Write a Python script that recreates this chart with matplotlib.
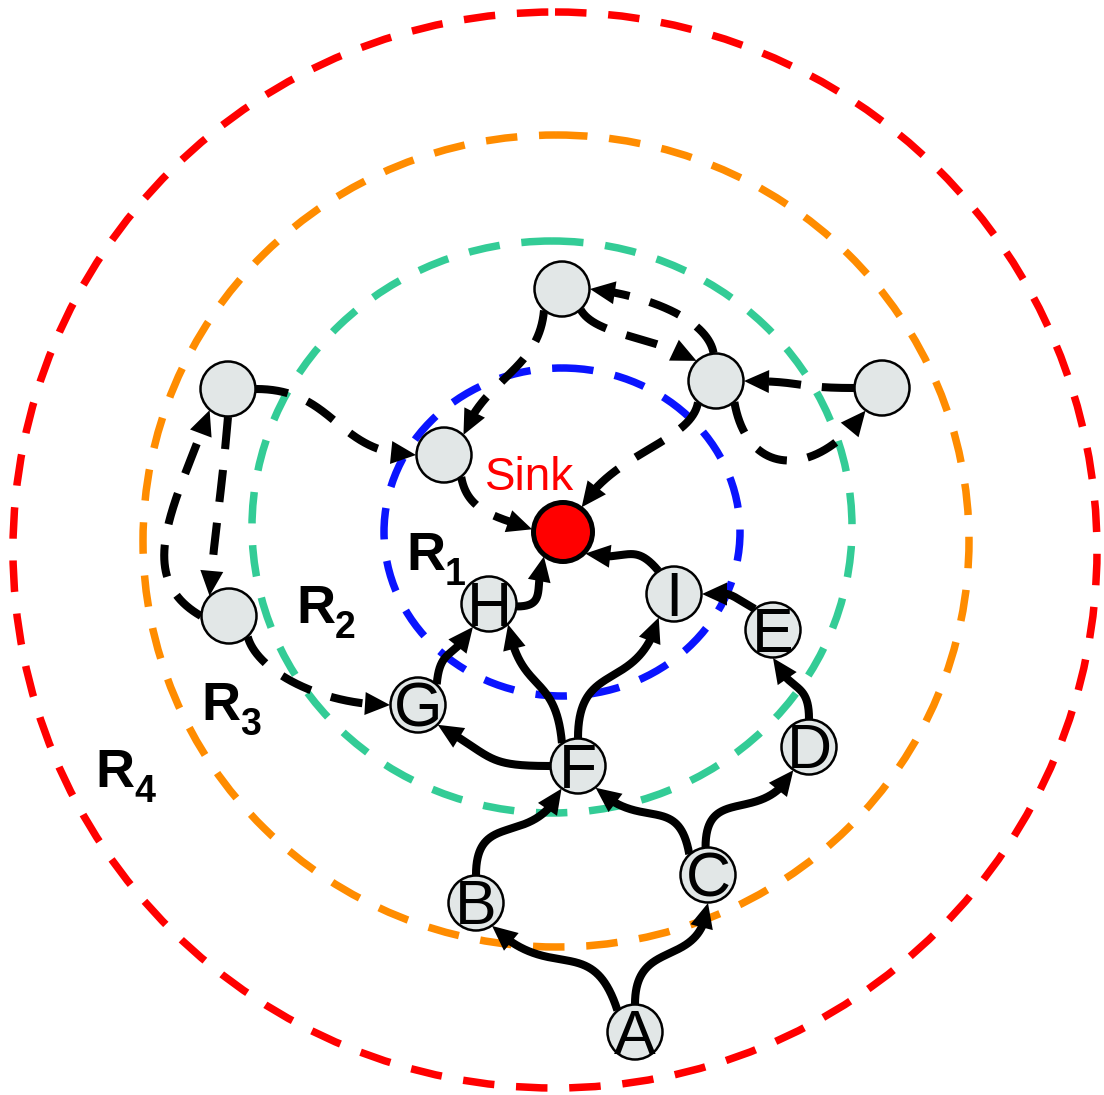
import numpy as np
import matplotlib.pyplot as plt
from matplotlib.patches import Circle, Ellipse, Polygon

plt.rcParams['font.family'] = ['Liberation Sans', 'DejaVu Sans']

# rings, inner to outer (pixel space of the original picture)
ring_names = ["1", "2", "3", "4"]
ring_cx = [562, 552, 556, 555]
ring_cy = [532, 527, 541, 550]
ring_rx = [178, 300, 413, 542]
ring_ry = [164, 286, 406, 538]
ring_label_x = [406, 296, 201, 95]
ring_label_y = [570, 623, 720, 787]
ring_colors = ["#0a14ff", "#33cc96", "#ff8c00", "#ff0000"]

# nodes
node_names = ["A", "B", "C", "D", "E", "F", "G", "H", "I", "Sink",
              "n1", "n2", "n3", "n4", "n5", "n6"]
node_x = [635, 476, 708, 809, 773, 578, 418, 489, 674, 563,
          562, 716, 882, 228, 444, 229]
node_y = [1032, 903, 875, 747, 630, 766, 705, 604, 594, 532,
          289, 381, 388, 389, 455, 616]
node_text = ["A", "B", "C", "D", "E", "F", "G", "H", "I", "",
             "", "", "", "", "", ""]

# edges: src, dst, leave angle, leave heading, enter angle, enter back-heading, (lengths)
solid_edges = [
    ("A", "B", 129, 108, -55, -45, None, None),
    ("A", "C", 90, 90, -90, -95, None, None),
    ("B", "F", 90, 90, 234, 245, None, None),
    ("C", "F", 132, 100, -51, -45, None, None),
    ("C", "D", 95, 90, 236, 242, None, None),
    ("D", "E", 90, 90, -90, -65, None, None),
    ("E", "I", 131, 150, 0, 5, None, None),
    ("F", "G", 180, 180, -45, -30, None, None),
    ("F", "H", 125, 95, -47, -80, None, None),
    ("F", "I", 90, 90, 237, 255, None, None),
    ("G", "H", 48, 85, 235, 240, None, None),
    ("H", "Sink", -5, 0, 232, 250, None, None),
    ("I", "Sink", 124, 130, -44, -15, None, None),
]
dashed_edges = [
    ("n4", "n5", 0, 0, 180, 180, 80, 80),
    ("n4", "n6", -90, -95, 134, 85, None, None),
    ("n6", "n4", 180, 150, 229, 250, 80, 100),
    ("n6", "G", -48, -75, 180, 180, 35, 70),
    ("n5", "Sink", -52, -80, 175, 160, 36, 36),
    ("n1", "n5", 230, 265, 46, 70, 60, 60),
    ("n1", "n2", -48, -60, 134, 150, 30, 50),
    ("n2", "n1", 95, 100, 0, -6, 35, 56),
    ("n2", "Sink", 230, 260, 53, 60, 40, 63),
    ("n2", "n3", -49, -80, 234, 235, 80, 80),
    ("n3", "n2", 180, 180, 0, 0, None, None),
]

pos = {n: np.array([x, y], float) for n, x, y in zip(node_names, node_x, node_y)}
rad = {n: 28.0 for n in node_names}
rad["Sink"] = 31.0


def unit(a):
    r = np.deg2rad(a)
    return np.array([np.cos(r), -np.sin(r)])


def draw_edge(ax, src, dst, a_out, t_out, a_in, t_in, l_out, l_in, dashed):
    p0 = pos[src] + rad[src] * unit(a_out)
    p3 = pos[dst] + rad[dst] * unit(a_in)
    d = np.linalg.norm(p3 - p0)
    l_out = 0.55 * d if l_out is None else l_out
    l_in = 0.55 * d if l_in is None else l_in
    p1 = p0 + l_out * unit(t_out)
    p2 = p3 + l_in * unit(t_in)
    t = np.linspace(0, 1, 400)[:, None]
    c = (1 - t)**3 * p0 + 3 * (1 - t)**2 * t * p1 + 3 * (1 - t) * t**2 * p2 + t**3 * p3
    dist = np.linalg.norm(c - p3, axis=1)
    head_len, head_w = 25, 11.5
    k_line = np.where(dist >= head_len * 0.8)[0][-1]
    k_base = np.where(dist >= head_len)[0][-1]
    ls = (0, (4.0, 2.6)) if dashed else "-"
    ax.plot(c[:k_line + 1, 0], c[:k_line + 1, 1], color="black", lw=5.8,
            ls=ls, solid_capstyle="butt", dash_capstyle="butt", zorder=3)
    v = p3 - c[k_base]
    v = v / np.linalg.norm(v)
    base = p3 - head_len * v
    n = np.array([-v[1], v[0]])
    ax.add_patch(Polygon([p3, base + head_w * n, base - head_w * n],
                         closed=True, fc="black", ec="none", zorder=4))


fig = plt.figure(figsize=(11.04, 10.95), dpi=100)
ax = fig.add_axes([0, 0, 1, 1])
ax.set_xlim(0, 1104)
ax.set_ylim(1095, 0)
ax.axis("off")

for cx, cy, rx, ry, col in zip(ring_cx, ring_cy, ring_rx, ring_ry, ring_colors):
    ax.add_patch(Ellipse((cx, cy), 2 * rx, 2 * ry, fill=False, ec=col, lw=5.4,
                         ls=(0, (4.2, 2.9)), zorder=1))

for name, lx, ly in zip(ring_names, ring_label_x, ring_label_y):
    ax.text(lx, ly, "R", fontsize=39, fontweight="bold", ha="left", va="baseline", zorder=2)
    ax.text(lx + 39, ly + 15, name, fontsize=27, fontweight="bold", ha="left",
            va="baseline", zorder=2)

for e in solid_edges:
    draw_edge(ax, *e, dashed=False)
for e in dashed_edges:
    draw_edge(ax, *e, dashed=True)

for name, x, y, lab in zip(node_names, node_x, node_y, node_text):
    if name == "Sink":
        ax.add_patch(Circle((x, y), 29.5, fc="#ff0000", ec="black", lw=3.6, zorder=5))
    else:
        ax.add_patch(Circle((x, y), 27.5, fc="#e2e7e7", ec="black", lw=1.8, zorder=5))
        if lab:
            ax.text(x, y + 21.5, lab, fontsize=45, ha="center", va="baseline", zorder=6)

ax.text(485, 490, "Sink", color="#ff0000", fontsize=33, ha="left", va="baseline", zorder=6)

fig.savefig("out.png", dpi=100)
